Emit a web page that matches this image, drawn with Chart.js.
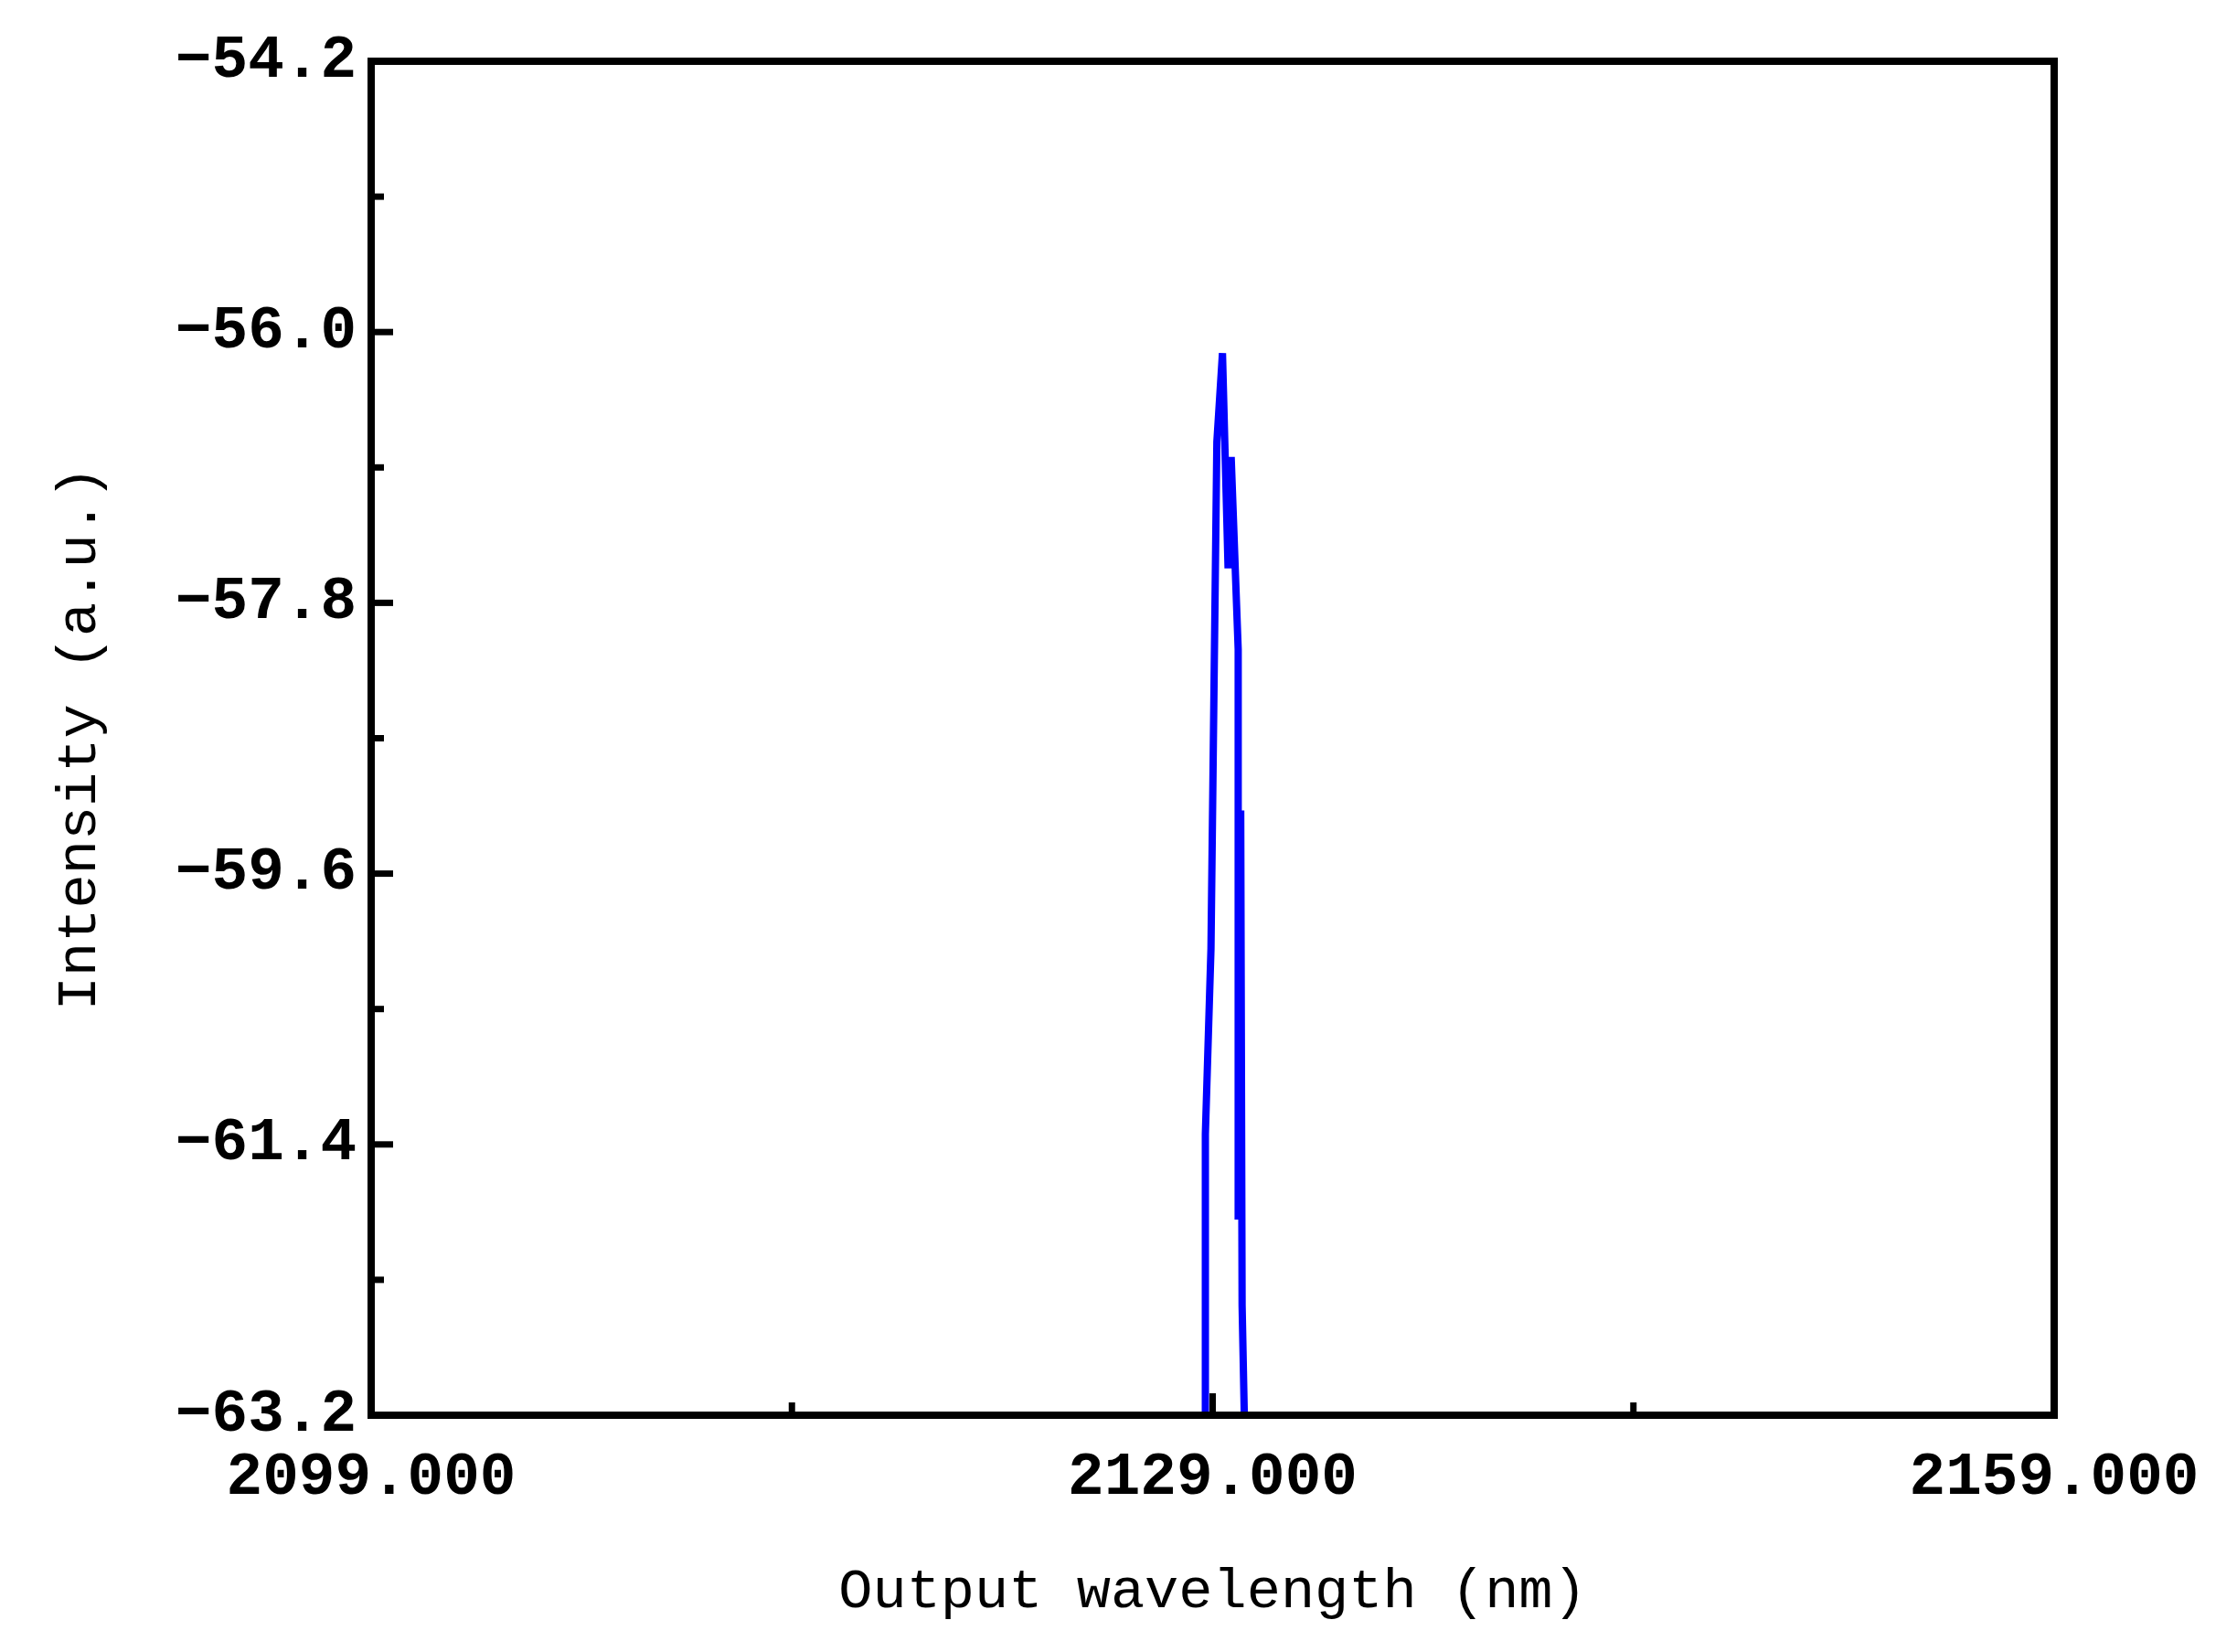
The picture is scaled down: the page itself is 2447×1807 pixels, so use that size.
<!DOCTYPE html>
<html><head><meta charset="utf-8">
<script src="https://cdn.jsdelivr.net/npm/chart.js@4/dist/chart.umd.min.js"></script>
<style>html,body{margin:0;padding:0;background:#fff}#w{width:2447px;height:1807px}</style>
</head><body><div id="w"><canvas id="c"></canvas></div>
<script>
const wavelengths = [2128.74, 2128.74, 2128.94, 2129.15, 2129.35, 2129.55, 2129.66, 2129.91, 2129.91, 2130.00, 2130.05, 2130.16];
const intensities = [-63.5, -61.33, -60.10, -56.73, -56.14, -57.57, -56.83, -58.11, -61.90, -59.18, -62.47, -63.5];
const xTickLabels = ['2099.000', '2129.000', '2159.000'];
const yTickLabels = ['-54.2', '-56.0', '-57.8', '-59.6', '-61.4', '-63.2'];
const FONT = '"Liberation Mono", "DejaVu Sans Mono", monospace';
const pts = wavelengths.map((x, i) => ({x, y: intensities[i]}));
const inTicks = {
  id: 'inTicks',
  afterDraw(ch) {
    const c = ch.ctx, a = ch.chartArea, xs = ch.scales.x, ys = ch.scales.y;
    c.save(); c.strokeStyle = '#000'; c.lineWidth = 7;
    xs.ticks.forEach((t, i) => {
      const p = xs.getPixelForValue(t.value), L = (i % 2 === 0) ? 24 : 14;
      c.beginPath(); c.moveTo(p, a.bottom); c.lineTo(p, a.bottom - L); c.stroke();
    });
    ys.ticks.forEach((t, i) => {
      const p = ys.getPixelForValue(t.value), L = (i % 2 === 0) ? 24 : 14;
      c.beginPath(); c.moveTo(a.left, p); c.lineTo(a.left + L, p); c.stroke();
    });
    c.lineWidth = 8; c.strokeRect(a.left, a.top, a.right - a.left, a.bottom - a.top);
    c.restore();
  }
};
new Chart(document.getElementById('c'), {
  type: 'line',
  data: { datasets: [{ data: pts, borderColor: '#0000ff', borderWidth: 8, pointRadius: 0, tension: 0, fill: false }] },
  options: {
    responsive: true, maintainAspectRatio: false, animation: false,
    layout: { padding: { top: 67, right: 200, left: 0, bottom: 0 } },
    plugins: { legend: { display: false }, tooltip: { enabled: false } },
    scales: {
      x: {
        type: 'linear', min: 2099, max: 2159,
        ticks: { stepSize: 15, autoSkip: false, maxRotation: 0, color: '#000', font: { family: FONT, size: 66, weight: 'bold' }, padding: 30,
          callback: (v) => { const i = xTickLabels.indexOf(v.toFixed(3)); return i >= 0 ? xTickLabels[i] : ''; } },
        grid: { display: false, drawTicks: false },
        border: { display: false },
        title: { display: true, text: 'Output wavelength (nm)', color: '#000', font: { family: FONT, size: 62 }, padding: { top: 0, bottom: 28 } },
        afterFit: (s) => { s.height = 259; }
      },
      y: {
        min: -63.2, max: -54.2,
        ticks: { stepSize: 0.9, autoSkip: false, color: '#000', font: { family: FONT, size: 66, weight: 'bold' }, padding: 16,
          callback: (v) => { const s = v.toFixed(1).replace('-', '−'); return yTickLabels.includes(v.toFixed(1)) ? s : ''; } },
        grid: { display: false, drawTicks: false },
        border: { display: false },
        title: { display: true, text: 'Intensity (a.u.)', color: '#000', font: { family: FONT, size: 62 }, padding: { top: 50, bottom: 0 } },
        afterFit: (s) => { s.width = 406; }
      }
    }
  },
  plugins: [inTicks]
});
</script></body></html>
